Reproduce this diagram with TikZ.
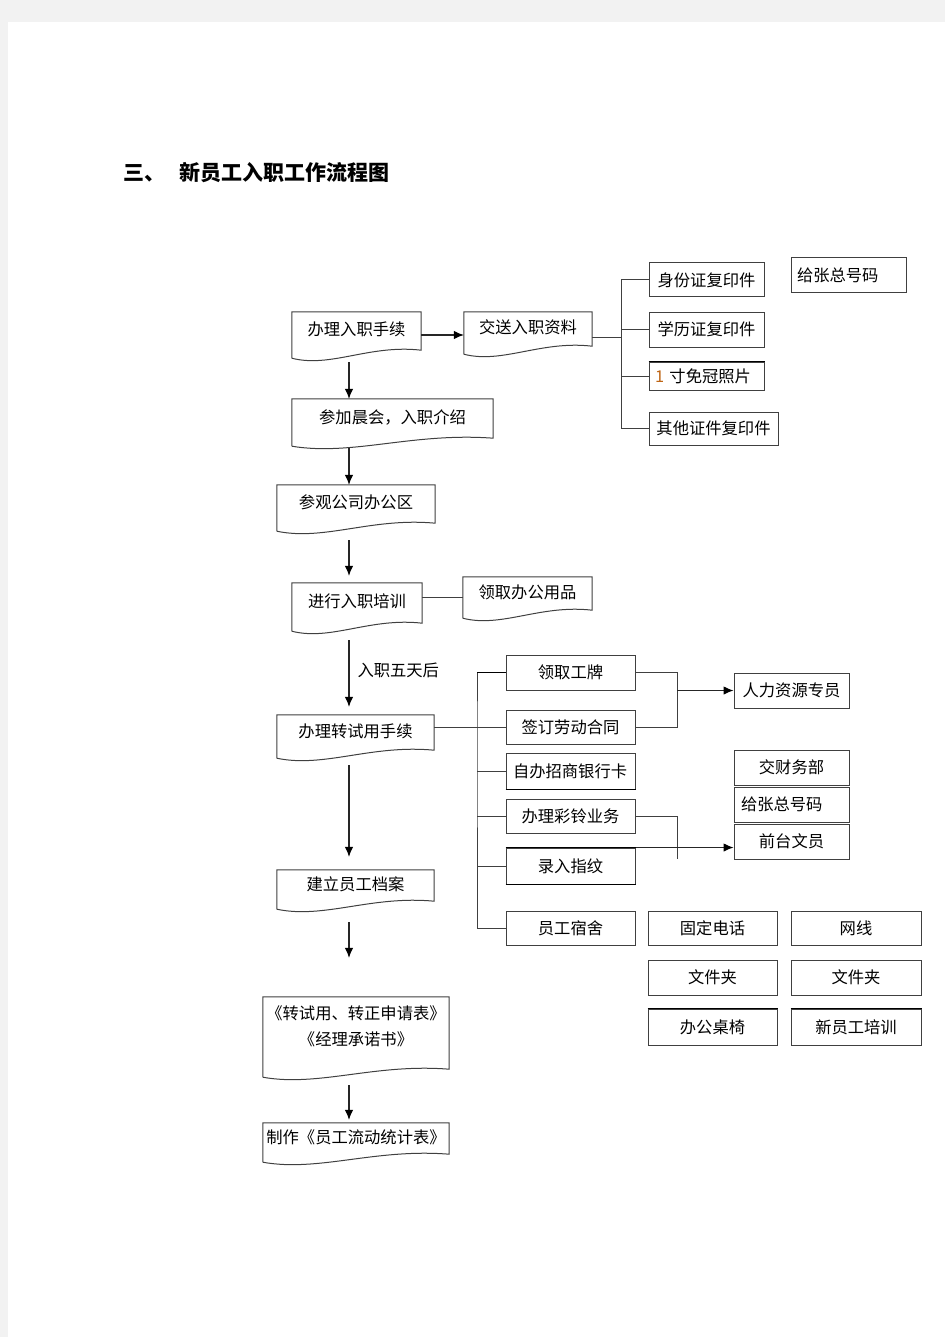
\documentclass[tikz,border=0pt]{standalone}
\usepackage{fontspec}
\setmainfont{Noto Sans CJK SC}
\usetikzlibrary{arrows.meta,calc}

\newcommand{\fs}{\fontsize{16.3pt}{26pt}\selectfont}
\newcommand{\titlefs}{\fontsize{21pt}{26pt}\selectfont\bfseries}
\definecolor{digitc}{RGB}{190,100,20}

\tikzset{
	frame/.style={draw=black!75, line width=1pt},
	rbox/.style={frame, inner sep=0pt, font=\fs},
	lbox/.style={rbox, align=left},
	dbox/.style={inner sep=0pt, text height=11pt, text depth=10pt, font=\fs},
	conn/.style={black!75, line width=1pt},
	arr/.style={black!85, line width=1.1pt, -{Latex[length=10pt,width=8.5pt,color=black]}},
	heavy/.style={black, line width=1.8pt}
}

\newcommand{\docline}[1]{\draw[frame] (#1.south west) -- (#1.north west) -- (#1.north east) -- ([yshift=8pt]#1.south east) .. controls ($(#1.south west)!0.6!(#1.south east)+(0,14pt)$) and ($(#1.south west)!0.3!(#1.south east)+(0,-10pt)$) .. (#1.south west);}

\begin{document}
\begin{tikzpicture}[x=1pt, y=-1pt]
		\useasboundingbox (0,0) rectangle (945,1337);
		\fill[black!5] (0,0) rectangle (945,1337);
		\fill[white] (8,22) rectangle (945,1337);

		\node[anchor=west, font=\titlefs] (title) at (120,173) {三、\hspace{14pt}新员工入职工作流程图};

		\node[dbox, minimum width=129pt, minimum height=46pt] (ban) at (356.5,335) {办理入职手续};
		\node[dbox, minimum width=128pt, minimum height=42pt] (jiaosong) at (528,333) {交送入职资料};
		\node[dbox, minimum width=201pt, minimum height=47pt] (chenhui) at (392.5,422.5) {参加晨会，入职介绍};
		\node[dbox, minimum width=158pt, minimum height=46pt] (canguan) at (356,508) {参观公司办公区};
		\node[dbox, minimum width=130pt, minimum height=48pt] (peixun) at (357,607) {进行入职培训};
		\node[dbox, minimum width=129pt, minimum height=41pt] (yongpin) at (527.5,597.5) {领取办公用品};
		\node[dbox, minimum width=157pt, minimum height=43pt] (zhuan) at (355.5,736.5) {办理转试用手续};
		\node[dbox, minimum width=157pt, minimum height=39pt] (dangan) at (355.5,889.5) {建立员工档案};
		\node[dbox, minimum width=186pt, minimum height=80pt, align=center, text height=27pt, text depth=10pt] (shenqing) at (356,1037) {《转试用、转正申请表》\\《经理承诺书》};
		\node[dbox, minimum width=186pt, minimum height=39pt] (zhizuo) at (356,1142.5) {制作《员工流动统计表》};
		\docline{ban}
		\docline{jiaosong}
		\docline{chenhui}
		\docline{canguan}
		\docline{peixun}
		\docline{yongpin}
		\docline{zhuan}
		\docline{dangan}
		\docline{shenqing}
		\docline{zhizuo}

		\node[rbox, minimum width=115pt, minimum height=34pt] (sfz) at (706.5,280) {身份证复印件};
		\node[rbox, minimum width=115pt, minimum height=35pt] (xl) at (706.5,329.5) {学历证复印件};
		\node[lbox, minimum width=115pt, minimum height=28pt, text width=103pt] (zp) at (706.5,376) {{\color{digitc}1} 寸免冠照片};
		\node[rbox, minimum width=129pt, minimum height=33pt] (qt) at (713.5,428.5) {其他证件复印件};
		\node[lbox, minimum width=115pt, minimum height=35pt, text width=103pt] (zhangA) at (848.5,275.5) {给张总号码};
		\draw[heavy] (zp.north west) -- (zp.north east);

		\node[rbox, minimum width=129pt, minimum height=35pt] (gongpai) at (570.5,672.5) {领取工牌};
		\node[rbox, minimum width=129pt, minimum height=34pt] (hetong) at (570.5,727) {签订劳动合同};
		\node[lbox, minimum width=129pt, minimum height=36pt, text width=115pt] (yinhang) at (570.5,771) {自办招商银行卡};
		\node[rbox, minimum width=129pt, minimum height=34pt] (cailing) at (570.5,816) {办理彩铃业务};
		\node[rbox, minimum width=129pt, minimum height=36pt] (zhiwen) at (570.5,866) {录入指纹};
		\node[rbox, minimum width=129pt, minimum height=34pt] (sushe) at (570.5,928) {员工宿舍};
		\draw[heavy] (yinhang.south west) -- (yinhang.south east);
		\draw[heavy] (zhiwen.north west) -- (zhiwen.north east);
		\draw[heavy] (zhiwen.south west) -- (zhiwen.south east);

		\node[rbox, minimum width=115pt, minimum height=35pt] (renli) at (791.5,690.5) {人力资源专员};
		\node[rbox, minimum width=115pt, minimum height=35pt] (caiwu) at (791.5,767.5) {交财务部};
		\node[lbox, minimum width=115pt, minimum height=35pt, text width=101pt] (zhangB) at (791.5,804.5) {给张总号码};
		\node[rbox, minimum width=115pt, minimum height=35pt] (qiantai) at (791.5,841.5) {前台文员};

		\node[rbox, minimum width=129pt, minimum height=34pt] (guding) at (712.5,928) {固定电话};
		\node[rbox, minimum width=130pt, minimum height=34pt] (wangxian) at (856,928) {网线};
		\node[rbox, minimum width=129pt, minimum height=35pt] (wjjA) at (712.5,977.5) {文件夹};
		\node[rbox, minimum width=130pt, minimum height=35pt] (wjjB) at (856,977.5) {文件夹};
		\node[rbox, minimum width=129pt, minimum height=36pt] (zhuoyi) at (712.5,1027) {办公桌椅};
		\node[rbox, minimum width=130pt, minimum height=36pt] (xinpx) at (856,1027) {新员工培训};
		\draw[heavy] (zhuoyi.north west) -- (zhuoyi.north east);
		\draw[heavy] (xinpx.north west) -- (xinpx.north east);

		\node[anchor=west, font=\fs] (wutian) at (354,670) {入职五天后};

		\coordinate (ax) at (349,0);
		\draw[arr, shorten <=4pt] (ban.south -| ax) -- (chenhui.north -| ax);
		\draw[arr, shorten <=2pt] (chenhui.south -| ax) -- (canguan.north -| ax);
		\draw[arr, shorten <=9pt, shorten >=7pt] (canguan.south -| ax) -- (peixun.north -| ax);
		\draw[arr, shorten <=9pt, shorten >=8pt] (peixun.south -| ax) -- (zhuan.north -| ax);
		\draw[arr, shorten <=7pt, shorten >=13pt] (zhuan.south -| ax) -- (dangan.north -| ax);
		\draw[arr, shorten <=13pt, shorten >=39pt] (dangan.south -| ax) -- (shenqing.north -| ax);
		\draw[arr, shorten <=8pt, shorten >=3pt] (shenqing.south -| ax) -- (zhizuo.north -| ax);

		\draw[arr] (ban.east) -- (ban.east -| jiaosong.west);
		\coordinate (brA) at (621,337);
		\draw[conn] (jiaosong.east |- brA) -- (brA);
		\draw[conn] (sfz.west) -| (brA) -- (brA |- qt.west) -- (qt.west);
		\draw[conn] (brA |- xl.west) -- (xl.west);
		\draw[conn] (brA |- zp.west) -- (zp.west);

		\draw[conn] (peixun.east |- yongpin.west) -- (yongpin.west);

		\coordinate (brB) at (477,729);
		\draw[conn] (zhuan.east |- hetong.west) -- (hetong.west);
		\draw[conn] (gongpai.west) -| (brB) -- (brB |- sushe.west) -- (sushe.west);
		\draw[heavy] (gongpai.west) -- ++(-29pt,0);
		\draw[conn] (brB |- yinhang.west) -- (yinhang.west);
		\draw[conn] (brB |- cailing.west) -- (cailing.west);
		\draw[conn] (brB |- zhiwen.west) -- (zhiwen.west);

		\coordinate (brC) at (677,690.5);
		\draw[conn] (gongpai.east) -| (brC |- hetong.east) -- (hetong.east);
		\draw[arr] (brC) -- (renli.west);

		\coordinate (brD) at (677,859);
		\draw[conn] (cailing.east) -| (brD);
		\draw[arr] (zhiwen.north east) -- (zhiwen.north east -| qiantai.west);
	\end{tikzpicture}
\end{document}
